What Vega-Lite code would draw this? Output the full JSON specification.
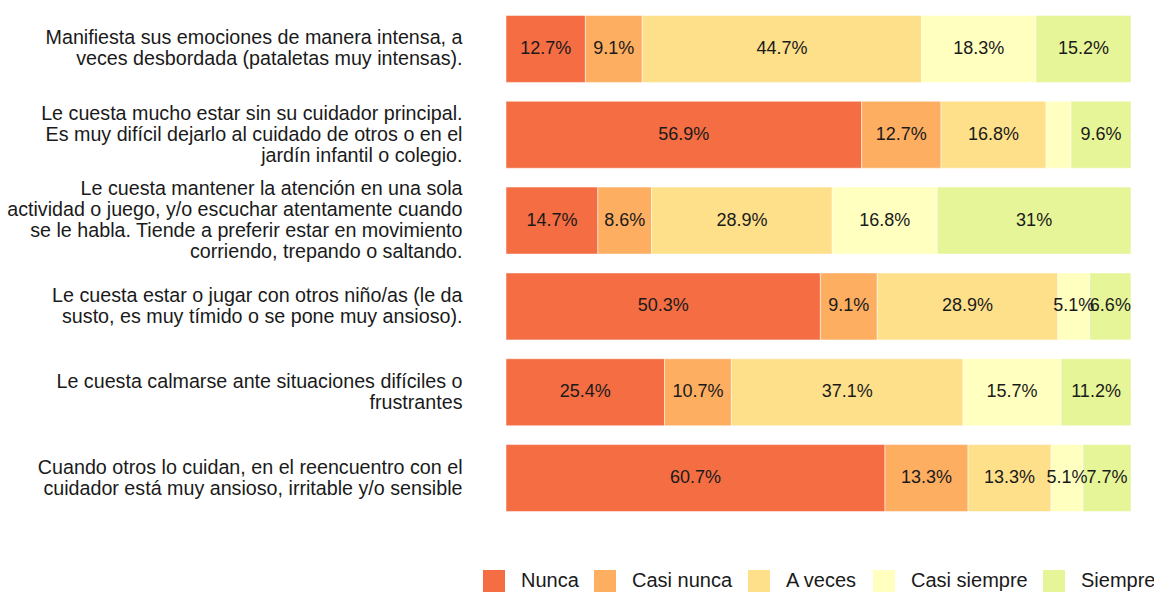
{
  "$schema": "https://vega.github.io/schema/vega-lite/v6.json",
  "width": 625,
  "height": 515,
  "autosize": {"type": "none"},
  "padding": {"left": 506, "top": 6, "right": 23, "bottom": 71},
  "background": "white",
  "config": {
    "view": {"stroke": null},
    "font": "Liberation Sans"
  },
  "data": {
    "values": [
      {"item": "Manifiesta sus emociones de manera intensa, a|veces desbordada (pataletas muy intensas).", "cat": "Nunca", "k": 1, "pct": 12.7},
      {"item": "Manifiesta sus emociones de manera intensa, a|veces desbordada (pataletas muy intensas).", "cat": "Casi nunca", "k": 2, "pct": 9.1},
      {"item": "Manifiesta sus emociones de manera intensa, a|veces desbordada (pataletas muy intensas).", "cat": "A veces", "k": 3, "pct": 44.7},
      {"item": "Manifiesta sus emociones de manera intensa, a|veces desbordada (pataletas muy intensas).", "cat": "Casi siempre", "k": 4, "pct": 18.3},
      {"item": "Manifiesta sus emociones de manera intensa, a|veces desbordada (pataletas muy intensas).", "cat": "Siempre", "k": 5, "pct": 15.2},
      {"item": "Le cuesta mucho estar sin su cuidador principal.|Es muy difícil dejarlo al cuidado de otros o en el|jardín infantil o colegio.", "cat": "Nunca", "k": 1, "pct": 56.9},
      {"item": "Le cuesta mucho estar sin su cuidador principal.|Es muy difícil dejarlo al cuidado de otros o en el|jardín infantil o colegio.", "cat": "Casi nunca", "k": 2, "pct": 12.7},
      {"item": "Le cuesta mucho estar sin su cuidador principal.|Es muy difícil dejarlo al cuidado de otros o en el|jardín infantil o colegio.", "cat": "A veces", "k": 3, "pct": 16.8},
      {"item": "Le cuesta mucho estar sin su cuidador principal.|Es muy difícil dejarlo al cuidado de otros o en el|jardín infantil o colegio.", "cat": "Casi siempre", "k": 4, "pct": 4.0},
      {"item": "Le cuesta mucho estar sin su cuidador principal.|Es muy difícil dejarlo al cuidado de otros o en el|jardín infantil o colegio.", "cat": "Siempre", "k": 5, "pct": 9.6},
      {"item": "Le cuesta mantener la atención en una sola|actividad o juego, y/o escuchar atentamente cuando|se le habla. Tiende a preferir estar en movimiento|corriendo, trepando o saltando.", "cat": "Nunca", "k": 1, "pct": 14.7},
      {"item": "Le cuesta mantener la atención en una sola|actividad o juego, y/o escuchar atentamente cuando|se le habla. Tiende a preferir estar en movimiento|corriendo, trepando o saltando.", "cat": "Casi nunca", "k": 2, "pct": 8.6},
      {"item": "Le cuesta mantener la atención en una sola|actividad o juego, y/o escuchar atentamente cuando|se le habla. Tiende a preferir estar en movimiento|corriendo, trepando o saltando.", "cat": "A veces", "k": 3, "pct": 28.9},
      {"item": "Le cuesta mantener la atención en una sola|actividad o juego, y/o escuchar atentamente cuando|se le habla. Tiende a preferir estar en movimiento|corriendo, trepando o saltando.", "cat": "Casi siempre", "k": 4, "pct": 16.8},
      {"item": "Le cuesta mantener la atención en una sola|actividad o juego, y/o escuchar atentamente cuando|se le habla. Tiende a preferir estar en movimiento|corriendo, trepando o saltando.", "cat": "Siempre", "k": 5, "pct": 31},
      {"item": "Le cuesta estar o jugar con otros niño/as (le da|susto, es muy tímido o se pone muy ansioso).", "cat": "Nunca", "k": 1, "pct": 50.3},
      {"item": "Le cuesta estar o jugar con otros niño/as (le da|susto, es muy tímido o se pone muy ansioso).", "cat": "Casi nunca", "k": 2, "pct": 9.1},
      {"item": "Le cuesta estar o jugar con otros niño/as (le da|susto, es muy tímido o se pone muy ansioso).", "cat": "A veces", "k": 3, "pct": 28.9},
      {"item": "Le cuesta estar o jugar con otros niño/as (le da|susto, es muy tímido o se pone muy ansioso).", "cat": "Casi siempre", "k": 4, "pct": 5.1},
      {"item": "Le cuesta estar o jugar con otros niño/as (le da|susto, es muy tímido o se pone muy ansioso).", "cat": "Siempre", "k": 5, "pct": 6.6},
      {"item": "Le cuesta calmarse ante situaciones difíciles o|frustrantes", "cat": "Nunca", "k": 1, "pct": 25.4},
      {"item": "Le cuesta calmarse ante situaciones difíciles o|frustrantes", "cat": "Casi nunca", "k": 2, "pct": 10.7},
      {"item": "Le cuesta calmarse ante situaciones difíciles o|frustrantes", "cat": "A veces", "k": 3, "pct": 37.1},
      {"item": "Le cuesta calmarse ante situaciones difíciles o|frustrantes", "cat": "Casi siempre", "k": 4, "pct": 15.7},
      {"item": "Le cuesta calmarse ante situaciones difíciles o|frustrantes", "cat": "Siempre", "k": 5, "pct": 11.2},
      {"item": "Cuando otros lo cuidan, en el reencuentro con el|cuidador está muy ansioso, irritable y/o sensible", "cat": "Nunca", "k": 1, "pct": 60.7},
      {"item": "Cuando otros lo cuidan, en el reencuentro con el|cuidador está muy ansioso, irritable y/o sensible", "cat": "Casi nunca", "k": 2, "pct": 13.3},
      {"item": "Cuando otros lo cuidan, en el reencuentro con el|cuidador está muy ansioso, irritable y/o sensible", "cat": "A veces", "k": 3, "pct": 13.3},
      {"item": "Cuando otros lo cuidan, en el reencuentro con el|cuidador está muy ansioso, irritable y/o sensible", "cat": "Casi siempre", "k": 4, "pct": 5.1},
      {"item": "Cuando otros lo cuidan, en el reencuentro con el|cuidador está muy ansioso, irritable y/o sensible", "cat": "Siempre", "k": 5, "pct": 7.7}
    ]
  },
  "transform": [
    {"stack": "pct", "groupby": ["item"], "sort": [{"field": "k", "order": "ascending"}], "offset": "normalize", "as": ["x0", "x1"]},
    {"calculate": "(datum.x0 + datum.x1) / 2", "as": "xm"},
    {"calculate": "format(datum.pct, '.1~f') + '%'", "as": "lab"}
  ],
  "encoding": {
    "y": {
      "field": "item",
      "type": "nominal",
      "sort": null,
      "title": null,
      "scale": {"paddingInner": 0.22, "paddingOuter": 0.11},
      "axis": {
        "domain": false,
        "ticks": false,
        "labelPadding": 44,
        "labelFontSize": 19.7,
        "labelColor": "#1a1a1a",
        "labelLimit": 0,
        "labelLineHeight": 21,
        "labelBaseline": "middle",
        "labelExpr": "split(datum.value, '|')",
        "labelOffset": {
          "condition": [
            {"test": "length(split(datum.value, '|')) == 2", "value": -10.5},
            {"test": "length(split(datum.value, '|')) == 3", "value": -21},
            {"test": "length(split(datum.value, '|')) == 4", "value": -31.5}
          ],
          "value": 0
        }
      }
    }
  },
  "layer": [
    {
      "mark": {"type": "bar", "stroke": "white", "strokeWidth": 0.5},
      "encoding": {
        "x": {"field": "x0", "type": "quantitative", "scale": {"domain": [0, 1], "nice": false}, "axis": null},
        "x2": {"field": "x1"},
        "color": {
          "field": "cat",
          "type": "nominal",
          "scale": {
            "domain": ["Nunca", "Casi nunca", "A veces", "Casi siempre", "Siempre"],
            "range": ["#F46D43", "#FDAE61", "#FEE08B", "#FFFFBF", "#E6F598"]
          },
          "legend": {
            "title": null,
            "orient": "none",
            "direction": "horizontal",
            "legendX": -23,
            "legendY": 564,
            "symbolType": "square",
            "symbolSize": 484,
            "symbolStrokeWidth": 0,
            "symbolOpacity": 1,
            "labelFontSize": 20,
            "labelColor": "#1a1a1a",
            "labelOffset": 16,
            "columnPadding": 15,
            "padding": 0,
            "labelLimit": 300
          }
        }
      }
    },
    {
      "transform": [{"filter": "datum.pct >= 5"}],
      "mark": {"type": "text", "fontSize": 18, "color": "#1a1a1a", "baseline": "middle", "align": "center"},
      "encoding": {
        "x": {"field": "xm", "type": "quantitative"},
        "text": {"field": "lab", "type": "nominal"}
      }
    }
  ]
}
